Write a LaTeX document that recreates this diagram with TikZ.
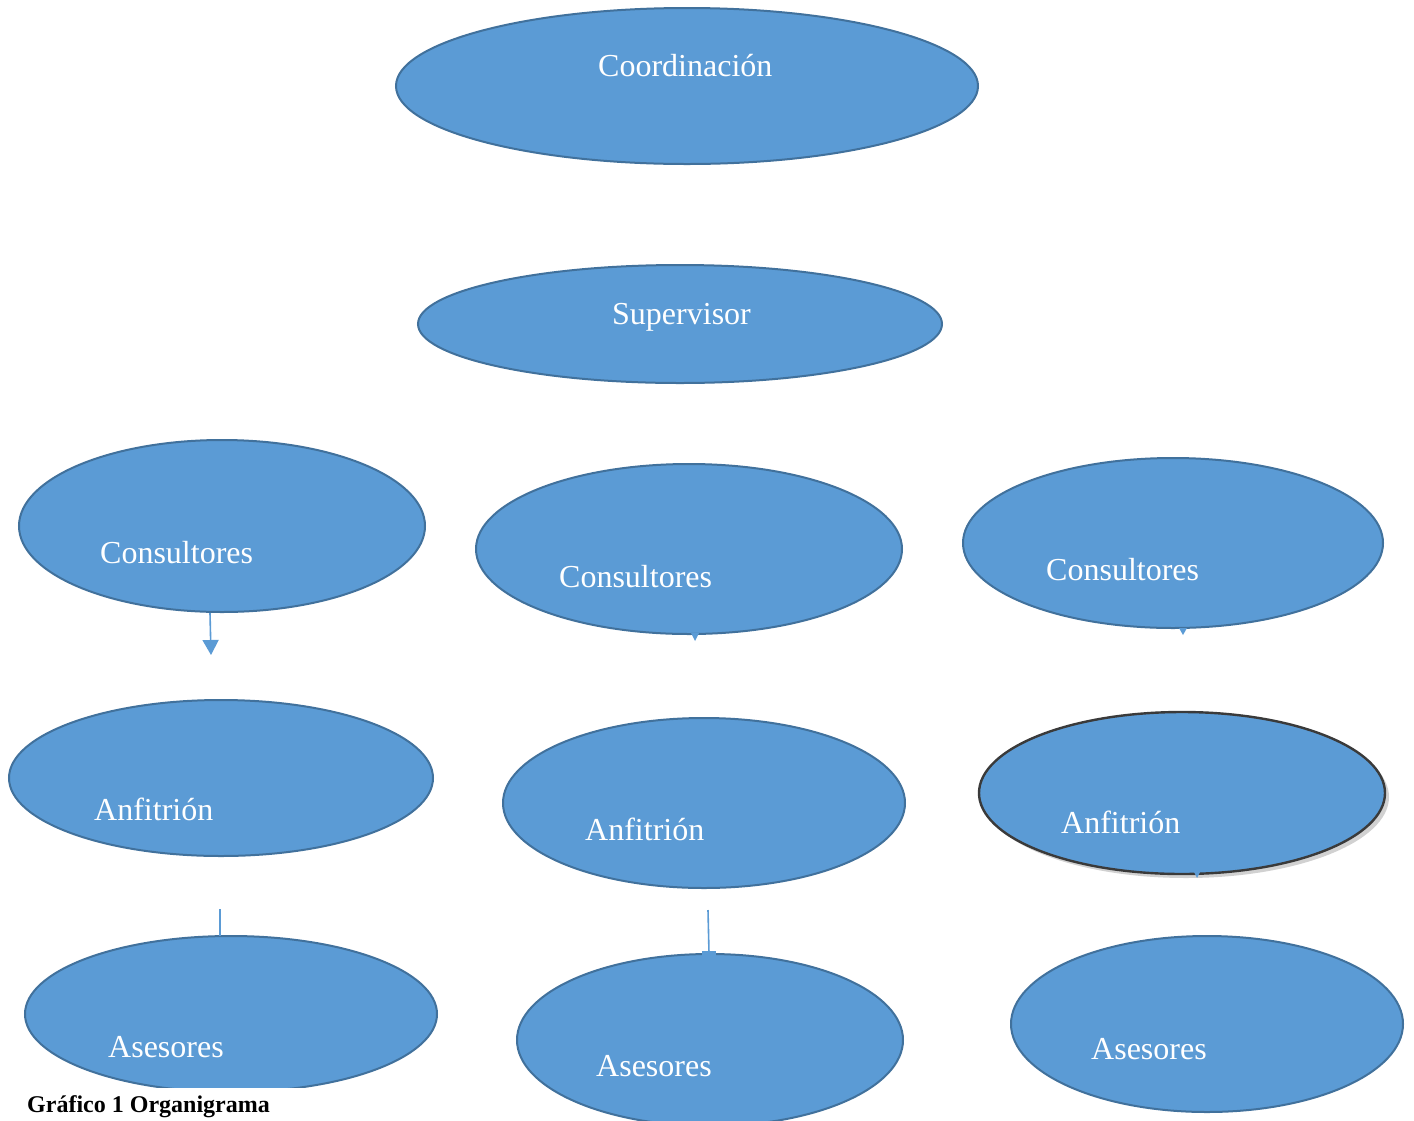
\documentclass[tikz,border=0pt]{standalone}
\usepackage{fontspec}
\setmainfont{Liberation Serif}
\usetikzlibrary{shapes.geometric,arrows.meta,shadows}
\definecolor{bfill}{HTML}{5B9BD5}
\definecolor{bline}{HTML}{41719C}
\definecolor{dline}{HTML}{3A3A3A}
\tikzset{
  oval/.style={ellipse,fill=bfill,draw=bline,line width=2pt,inner sep=0pt},
  lbl/.style={anchor=base west,text=white,font=\fontsize{32}{36}\selectfont,inner sep=0pt},
  conn/.style={draw=bfill,line width=1.6pt},
  tinytip/.style={fill=bfill},
}
\begin{document}
\begin{tikzpicture}[x=1pt,y=-1pt]
\useasboundingbox[fill=white] (0,0) rectangle (1414,1120);
% ovals
\node[oval,minimum width=582pt,minimum height=156pt] (coord) at (687,86) {};
\node[oval,minimum width=524pt,minimum height=118pt] (sup) at (680,324) {};
\node[oval,minimum width=406pt,minimum height=172pt] (conL) at (222,526) {};
\node[oval,minimum width=426pt,minimum height=170pt] (conM) at (689,549) {};
\node[oval,minimum width=420pt,minimum height=170pt] (conR) at (1173,543) {};
\node[oval,minimum width=424pt,minimum height=156pt] (anfL) at (221,778) {};
\node[oval,minimum width=402pt,minimum height=170pt] (anfM) at (704,803) {};
\node[oval,draw=dline,line width=2.4pt,drop shadow={shadow xshift=4pt,shadow yshift=-4pt,fill=black!40,opacity=0.45},minimum width=406pt,minimum height=162pt] (anfR) at (1182,793) {};
\node[oval,minimum width=412pt,minimum height=156pt] (aseL) at (231,1014) {};
\node[oval,minimum width=386pt,minimum height=172pt] (aseM) at (710,1040) {};
\node[oval,minimum width=392pt,minimum height=176pt] (aseR) at (1207,1024) {};
% caption background
\fill[white] (0,1088) rectangle (455,1120);
% labels
\node[lbl] (tcoord) at (598,76) {Coordinación};
\node[lbl] (tsup) at (612,324) {Supervisor};
\node[lbl] (tconL) at (100,563) {Consultores};
\node[lbl] (tconM) at (559,587) {Consultores};
\node[lbl] (tconR) at (1046,580) {Consultores};
\node[lbl] (tanfL) at (94,820) {Anfitrión};
\node[lbl] (tanfM) at (585,840) {Anfitrión};
\node[lbl] (tanfR) at (1061,833) {Anfitrión};
\node[lbl] (taseL) at (108,1057) {Asesores};
\node[lbl] (taseM) at (596,1076) {Asesores};
\node[lbl] (taseR) at (1091,1059) {Asesores};
% connectors
\coordinate (a1) at (210,613);
\coordinate (a2) at (211,655);
\draw[conn,-{Triangle[width=16pt,length=15pt]}] (a1) -- (a2);
\coordinate (b1) at (695,633);
\fill[tinytip] (b1) ++(-4,0) -- ++(8,0) -- (695,641) -- cycle;
\coordinate (c1) at (1183,628);
\fill[tinytip] (c1) ++(-4,0) -- ++(8,0) -- (1183,635) -- cycle;
\coordinate (d1) at (1197,872);
\fill[tinytip] (d1) ++(-3,0) -- ++(6,0) -- (1197,878) -- cycle;
\coordinate (e1) at (220,909);
\coordinate (e2) at (220,936);
\draw[conn] (e1) -- (e2);
\coordinate (f1) at (708,910);
\coordinate (f2) at (709,953);
\draw[conn] (f1) -- (f2);
\fill[bfill] (702,951) rectangle (716,956);
% caption
\node[anchor=base west,inner sep=0pt,font=\fontsize{24}{27}\selectfont\bfseries] (cap) at (27,1112) {Gráfico 1 Organigrama};
\end{tikzpicture}
\end{document}
